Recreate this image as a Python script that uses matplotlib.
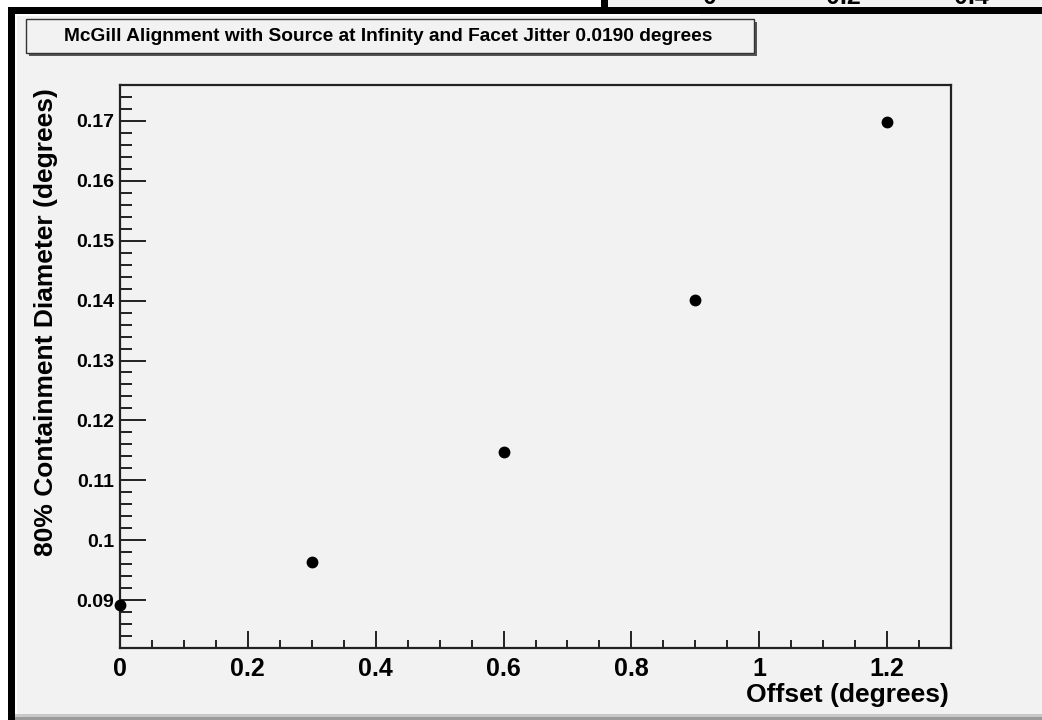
import matplotlib
matplotlib.use("Agg")
import matplotlib.pyplot as plt
from matplotlib.patches import Rectangle
from matplotlib.ticker import FixedLocator, MultipleLocator

# data
offset = [0.0, 0.3, 0.6, 0.9, 1.2]
diameter = [0.0892, 0.0963, 0.1147, 0.1401, 0.1698]

x_ticks = [0.0, 0.2, 0.4, 0.6, 0.8, 1.0, 1.2]
x_ticklabels = ['0', '0.2', '0.4', '0.6', '0.8', '1', '1.2']
y_ticks = [0.09, 0.10, 0.11, 0.12, 0.13, 0.14, 0.15, 0.16, 0.17]
y_ticklabels = ['0.09', '0.1', '0.11', '0.12', '0.13', '0.14', '0.15', '0.16', '0.17']

# the cut off axis of the neighbouring canvas at the top
top_ticks = [(710, '0'), (843, '0.2'), (971, '0.4')]

title = 'McGill Alignment with Source at Infinity and Facet Jitter 0.0190 degrees'
xlabel = 'Offset (degrees)'
ylabel = '80% Containment Diameter (degrees)'

plt.rcParams['font.family'] = ['Liberation Sans', 'DejaVu Sans']
plt.rcParams['font.weight'] = 'bold'

W, H = 1042, 720
bg = '#f2f2f2'
fig = plt.figure(figsize=(W / 100, H / 100), dpi=100, facecolor=bg)


def px(x, y):
    # pixel (from top left) to figure fraction
    return x / W, 1 - y / H


def box(x0, y0, x1, y1, color, z=0):
    fig.patches.append(Rectangle((x0 / W, 1 - y1 / H), (x1 - x0) / W, (y1 - y0) / H,
                                 transform=fig.transFigure, facecolor=color,
                                 edgecolor='none', zorder=z))


# frame bits around the canvas
box(0, 0, 601, 7, 'white')
box(0, 0, 8, H, 'white')
box(601, 0, 608, 7, 'black')
box(8, 7, W, 14, 'black')
box(8, 7, 15, H, 'black')
box(15, 14, 700, 16, 'white')
box(15, 14, 17, H, 'white')
box(15, 714, W, 717, '#c8c8c8')
box(15, 717, W, H, '#9a9a9a')

for xp, lab in top_ticks:
    fig.text(*px(xp, 4.5), lab, ha='center', va='baseline', fontsize=18, fontweight='bold')

# axes
left, right, top, bottom = 120, 951, 85, 648
ax = fig.add_axes([left / W, 1 - bottom / H, (right - left) / W, (bottom - top) / H])
ax.set_facecolor(bg)
ax.plot(offset, diameter, 'o', color='black', markersize=7.5, clip_on=False, zorder=5)

ax.set_xlim(0, 1.3)
ax.set_ylim(0.082, 0.176)
ax.xaxis.set_major_locator(FixedLocator(x_ticks))
ax.set_xticklabels(x_ticklabels)
ax.xaxis.set_minor_locator(MultipleLocator(0.05))
ax.yaxis.set_major_locator(FixedLocator(y_ticks))
ax.set_yticklabels(y_ticklabels)
ax.yaxis.set_minor_locator(MultipleLocator(0.002))

for s in ax.spines.values():
    s.set_linewidth(1.6)
    s.set_color('#222222')

ax.tick_params(axis='x', which='major', direction='in', length=12.2, width=1.4,
               color='#222222', labelsize=18, pad=6.5)
ax.tick_params(axis='x', which='minor', direction='in', length=5.8, width=1.4, color='#222222')
ax.tick_params(axis='y', which='major', direction='in', length=18.7, width=1.4,
               color='#222222', labelsize=14, pad=4.3)
ax.tick_params(axis='y', which='minor', direction='in', length=8.6, width=1.4, color='#222222')
for lab in ax.get_xticklabels() + ax.get_yticklabels():
    lab.set_fontweight('bold')

fig.text(*px(949, 702), xlabel, ha='right', va='baseline', fontsize=19, fontweight='bold')
fig.text(*px(46, 88), ylabel, ha='center', va='top', rotation=90, fontsize=19, fontweight='bold')

# title pave with shadow
box(29, 22, 757, 56, '#555555', z=1)
fig.patches.append(Rectangle((26 / W, 1 - 53 / H), (754 - 26) / W, (53 - 19) / H,
                             transform=fig.transFigure, facecolor=bg, edgecolor='#333333',
                             linewidth=1.0, zorder=2))
fig.text(*px(388, 36.5), title, ha='center', va='center', fontsize=13.8, fontweight='bold', zorder=3)

fig.savefig('out.png', dpi=100, facecolor=bg)
